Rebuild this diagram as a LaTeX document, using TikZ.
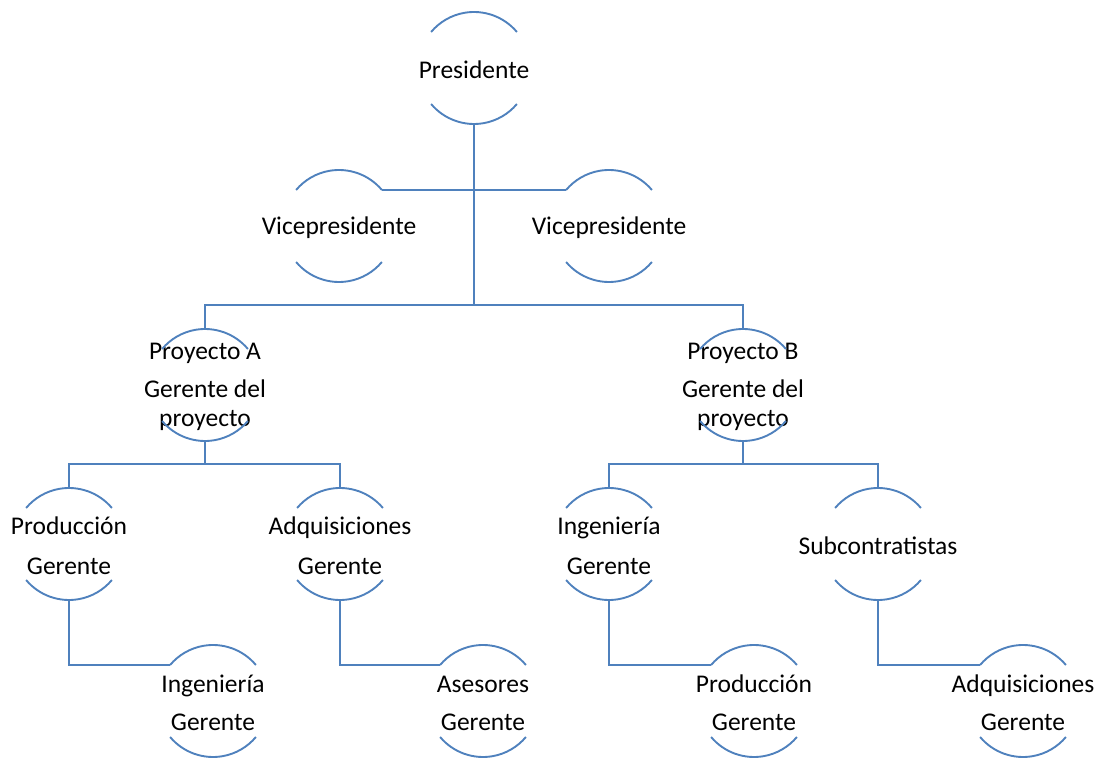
\documentclass[tikz,border=0pt]{standalone}
\usepackage{fontspec}
\setmainfont{Carlito}
\usetikzlibrary{positioning}
\definecolor{linkblue}{RGB}{79,129,189}

\begin{document}
\begin{tikzpicture}[
    x=1pt, y=1pt,
    node distance=158pt,
    member/.style={circle, minimum size=112pt, inner sep=0pt, outer sep=0pt},
    memtext/.style={font=\fontsize{25.5}{29}\selectfont, align=center, text=black, yshift=-2pt},
    ring/.style={linkblue, line width=1.9pt},
    link/.style={linkblue, line width=1.9pt}
]
    \useasboundingbox (0,0) rectangle (1105,758);

    % Nodes - top rows
    \node[member, label={[memtext]center:Presidente}] (pres) at (474,690) {};
    \node[member, label={[memtext]center:Vicepresidente}] (vpl) at (339,532) {};
    \node[member, right=158pt of vpl, label={[memtext]center:Vicepresidente}] (vpr) {};

    % Nodes - project row
    \node[member, label={[memtext]center:{Proyecto A\\[9pt]Gerente del\\proyecto}}] (pa) at (205,373) {};
    \node[member, right=426pt of pa, label={[memtext]center:{Proyecto B\\[9pt]Gerente del\\proyecto}}] (pb) {};

    % Nodes - managers row
    \node[member, label={[memtext]center:{Producción\\[11pt]Gerente}}] (prodA) at (69,214) {};
    \node[member, right=159pt of prodA, label={[memtext]center:{Adquisiciones\\[11pt]Gerente}}] (adqA) {};
    \node[member, right=157pt of adqA, label={[memtext]center:{Ingeniería\\[11pt]Gerente}}] (ingB) {};
    \node[member, right=157pt of ingB, label={[memtext]center:Subcontratistas}] (subB) {};

    % Nodes - bottom row
    \node[member, label={[memtext]center:{Ingeniería\\[9pt]Gerente}}] (ingA) at (213,57) {};
    \node[member, right=158pt of ingA, label={[memtext]center:{Asesores\\[9pt]Gerente}}] (asesA) {};
    \node[member, right=159pt of asesA, label={[memtext]center:{Producción\\[9pt]Gerente}}] (prodB) {};
    \node[member, right=157pt of prodB, label={[memtext]center:{Adquisiciones\\[9pt]Gerente}}] (adqB) {};

    % Rings
    \foreach \n in {pres, vpl, vpr, pa, pb, prodA, adqA, ingB, subB, ingA, asesA, prodB, adqB}
        \draw[ring] (\n.40) arc[start angle=40, end angle=140, radius=56]
                    (\n.220) arc[start angle=220, end angle=320, radius=56];

    % Split points
    \coordinate (hub) at ([yshift=24pt]pres.south |- pa.north);
    \coordinate[below=23pt of pa] (hubA);
    \coordinate[below=23pt of pb] (hubB);

    % Connectors
    \draw[link] (pres.south) -- (hub);
    \draw[link] (vpl.40) -- (vpr.140);
    \draw[link] (pa.north) |- (hub) -| (pb.north);
    \draw[link] (pa.south) -- (hubA);
    \draw[link] (prodA.north) |- (hubA) -| (adqA.north);
    \draw[link] (pb.south) -- (hubB);
    \draw[link] (ingB.north) |- (hubB) -| (subB.north);
    \draw[link] (prodA.south) |- (ingA.140);
    \draw[link] (adqA.south) |- (asesA.140);
    \draw[link] (ingB.south) |- (prodB.140);
    \draw[link] (subB.south) |- (adqB.140);
\end{tikzpicture}
\end{document}
